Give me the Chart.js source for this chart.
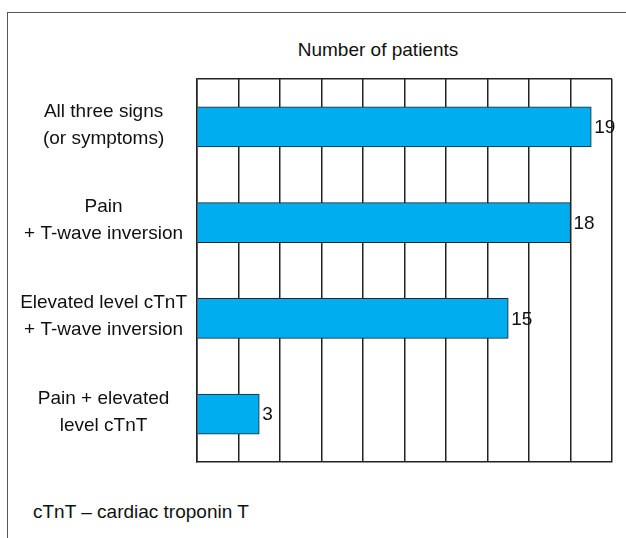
<!DOCTYPE html>
<html>
<head>
<meta charset="utf-8">
<script src="https://cdn.jsdelivr.net/npm/chart.js@4.4.1/dist/chart.umd.min.js"></script>
<style>
    html, body { margin: 0; padding: 0; background: #fff; }
    body { width: 626px; height: 538px; position: relative; overflow: hidden; }
    .frame {
        position: absolute; left: 7px; top: 12px; width: 640px; height: 560px;
        border-left: 1.5px solid #555; border-top: 1.5px solid #555;
    }
    .txt {
        position: absolute; font-family: "Liberation Sans", Arial, sans-serif;
        font-size: 19px; line-height: 20px; color: #111; white-space: nowrap;
    }
    #title { left: 228px; width: 300px; top: 40px; text-align: center; }
    #note { left: 33px; top: 502px; }
    #wrap { position: absolute; left: 0; top: 0; width: 626px; height: 538px; }
</style>
</head>
<body>
<div class="frame"></div>
<div id="title" class="txt">Number of patients</div>
<div id="note" class="txt">cTnT – cardiac troponin T</div>
<div id="wrap"><canvas id="signsChart" width="626" height="538"></canvas></div>

<script>
const categories = [
    ["All three signs", "(or symptoms)"],
    ["Pain", "+ T-wave inversion"],
    ["Elevated level cTnT", "+ T-wave inversion"],
    ["Pain + elevated", "level cTnT"]
];
const patientCounts = [19, 18, 15, 3];
const axisMin = 0;
const axisMax = 20;
const axisStep = 2;

const FONT = '"Liberation Sans", Arial, sans-serif';
const LINE = "#222";

// numbers next to the end of each bar
const valueLabels = {
    id: "valueLabels",
    afterDatasetsDraw(chart) {
        const ctx = chart.ctx;
        const meta = chart.getDatasetMeta(0);
        ctx.save();
        ctx.font = "19px " + FONT;
        ctx.fillStyle = "#111";
        ctx.textAlign = "left";
        ctx.textBaseline = "middle";
        meta.data.forEach((bar, i) => {
            ctx.fillText(String(patientCounts[i]), bar.x + 3, bar.y + 1);
        });
        ctx.restore();
    }
};

Chart.defaults.font.family = FONT;
Chart.defaults.color = "#111";

new Chart(document.getElementById("signsChart"), {
    type: "bar",
    data: {
        labels: categories,
        datasets: [{
            data: patientCounts,
            backgroundColor: "#00aeef",
            borderColor: "#222",
            borderWidth: 1,
            barThickness: 40,
            categoryPercentage: 1
        }]
    },
    options: {
        indexAxis: "y",
        responsive: false,
        animation: false,
        layout: {
            padding: { top: 79, bottom: 76, left: 0, right: 14 }
        },
        plugins: {
            legend: { display: false },
            tooltip: { enabled: false }
        },
        scales: {
            x: {
                min: axisMin,
                max: axisMax,
                ticks: { display: false, stepSize: axisStep },
                grid: { color: LINE, lineWidth: 1.5, drawTicks: false },
                border: { display: true, color: LINE, width: 1.5 },
                afterFit(scale) { scale.height = 0; }
            },
            y: {
                grid: {
                    drawTicks: false,
                    lineWidth: 1.5,
                    color: (c) => c.index === 0 ? LINE : "rgba(0,0,0,0)"
                },
                border: { display: true, color: LINE, width: 1.5 },
                ticks: {
                    crossAlign: "center",
                    padding: 10,
                    labelOffset: -2,
                    color: "#111",
                    font: { size: 19, lineHeight: 1.42 }
                },
                afterFit(scale) { scale.width = 197; }
            }
        }
    },
    plugins: [valueLabels]
});
</script>
</body>
</html>
